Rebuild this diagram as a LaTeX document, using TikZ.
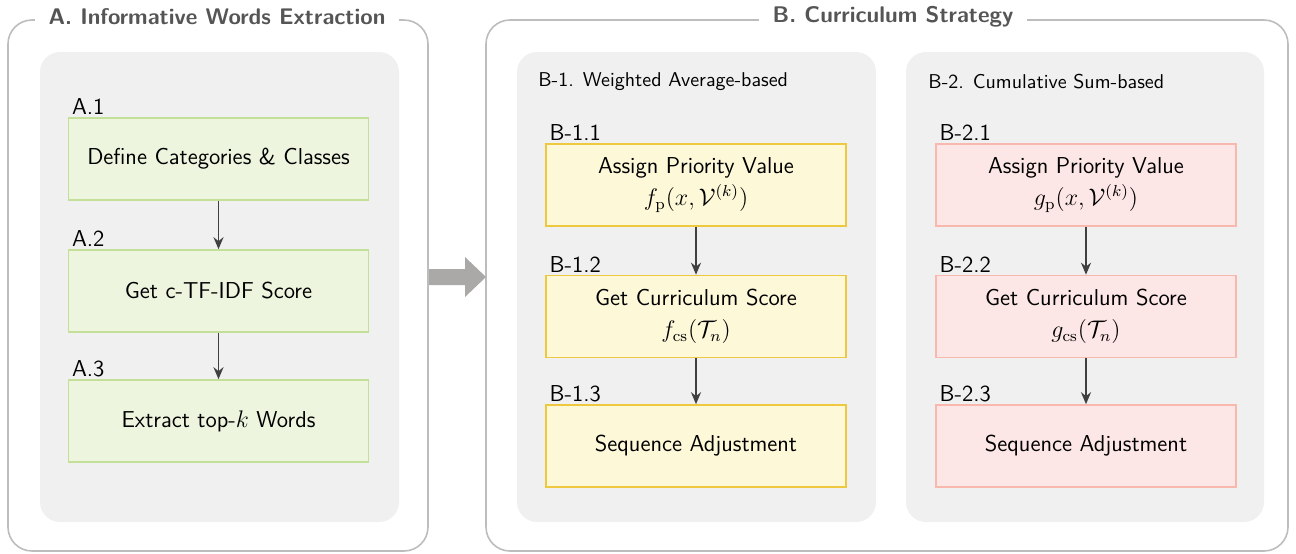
\documentclass[tikz,border=0pt]{standalone}
\usetikzlibrary{arrows.meta}
\renewcommand{\familydefault}{\sfdefault}
\definecolor{outerc}{HTML}{BDBDBD}
\definecolor{innerc}{HTML}{F0F0F0}
\definecolor{gfill}{HTML}{EDF5DF}
\definecolor{gdraw}{HTML}{C3DF98}
\definecolor{yfill}{HTML}{FCF8D8}
\definecolor{ydraw}{HTML}{EEC83F}
\definecolor{rfill}{HTML}{FDE7E6}
\definecolor{rdraw}{HTML}{F8B8AE}
\definecolor{ttlc}{HTML}{555555}
\definecolor{arrc}{HTML}{404040}
\definecolor{bigarr}{HTML}{ABA8A8}
\tikzset{
  outerbox/.style={draw=outerc, line width=0.8pt, rounded corners=12pt},
  innerbox/.style={fill=innerc, rounded corners=10pt},
  ttl/.style={fill=white, text=ttlc, font=\fontsize{11.3}{13}\selectfont\bfseries, inner xsep=7pt, inner ysep=1pt},
  sub/.style={anchor=west, font=\fontsize{10}{12}\selectfont, inner sep=0pt},
  stepbase/.style={minimum width=150pt, minimum height=41pt, line width=0.8pt, align=center, inner sep=2pt, font=\fontsize{11.5}{14}\selectfont},
  gbox/.style={stepbase, fill=gfill, draw=gdraw},
  ybox/.style={stepbase, fill=yfill, draw=ydraw},
  rbox/.style={stepbase, fill=rfill, draw=rdraw},
  lab/.style={anchor=south west, inner sep=1pt, xshift=1pt, font=\fontsize{11.5}{14}\selectfont},
  arr/.style={draw=arrc, line width=0.9pt, -{Stealth[length=6pt,width=5pt]}},
}
\begin{document}
\begin{tikzpicture}[x=0.5pt,y=-0.5pt]
\useasboundingbox (0,0) rectangle (1296,553);
% outer boxes
\draw[outerbox] (8,20) rectangle (428,551);
\draw[outerbox] (486,20) rectangle (1288,551);
\node[ttl] (tA) at (217,17) {A. Informative Words Extraction};
\node[ttl] (tB) at (893,17) {B. Curriculum Strategy};
% inner panels
\fill[innerbox] (40,52) rectangle (399,522);
\fill[innerbox] (517,52) rectangle (876,522);
\fill[innerbox] (906,52) rectangle (1264,522);
\node[sub] (s1) at (538,82) {B-1. Weighted Average-based};
\node[sub] (s2) at (928,82) {B-2. Cumulative Sum-based};
% A boxes
\node[gbox] (A1) at (218.5,159) {Define Categories \& Classes};
\node[gbox] (A2) at (218.5,291) {Get c-TF-IDF Score};
\node[gbox] (A3) at (218.5,421) {Extract top-$k$ Words};
\node[lab] at (A1.north west) {A.1};
\node[lab] at (A2.north west) {A.2};
\node[lab] at (A3.north west) {A.3};
\draw[arr] (A1) -- (A2);
\draw[arr] (A2) -- (A3);
% B-1 boxes
\node[ybox] (B11) at (696,185) {Assign Priority Value\\[2pt] $f_{\mathrm{p}}(x,\mathcal{V}^{(k)})$};
\node[ybox] (B12) at (696,316.5) {Get Curriculum Score\\[2pt] $f_{\mathrm{cs}}(\mathcal{T}_n)$};
\node[ybox] (B13) at (696,446) {Sequence Adjustment};
\node[lab] at (B11.north west) {B-1.1};
\node[lab] at (B12.north west) {B-1.2};
\node[lab] at (B13.north west) {B-1.3};
\draw[arr] (B11) -- (B12);
\draw[arr] (B12) -- (B13);
% B-2 boxes
\node[rbox] (B21) at (1086,185) {Assign Priority Value\\[2pt] $g_{\mathrm{p}}(x,\mathcal{V}^{(k)})$};
\node[rbox] (B22) at (1086,316.5) {Get Curriculum Score\\[2pt] $g_{\mathrm{cs}}(\mathcal{T}_n)$};
\node[rbox] (B23) at (1086,446) {Sequence Adjustment};
\node[lab] at (B21.north west) {B-2.1};
\node[lab] at (B22.north west) {B-2.2};
\node[lab] at (B23.north west) {B-2.3};
\draw[arr] (B21) -- (B22);
\draw[arr] (B22) -- (B23);
% big arrow
\fill[bigarr] (429,269) -- (465,269) -- (465,257) -- (486,277) -- (465,297) -- (465,285) -- (429,285) -- cycle;
\end{tikzpicture}
\end{document}
